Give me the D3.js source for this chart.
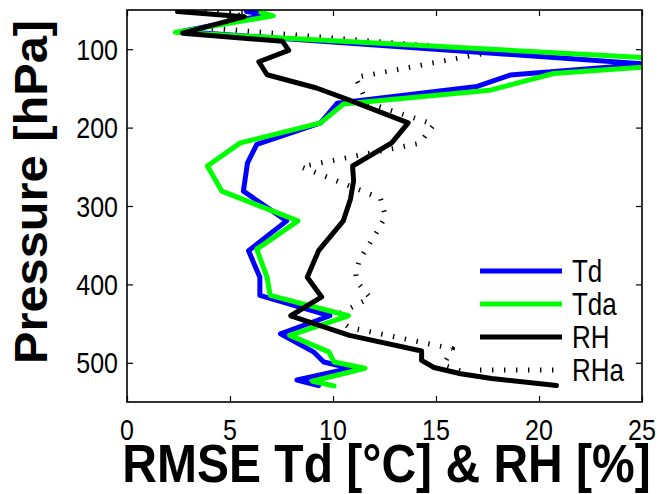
<!DOCTYPE html>
<html>
<head>
<meta charset="utf-8">
<script src="https://cdn.jsdelivr.net/npm/d3@7"></script>
<style>
  body { margin: 0; background: #fff; }
  text { font-family: "Liberation Sans", Arial, Helvetica, sans-serif; fill: #000; }
</style>
</head>
<body>
<div id="chart"></div>
<script>
// dew point RMSE, analysis (Td) and first guess (Tda), plus RH
const tdPressure = [52, 56, 77.5, 119, 133, 147.5, 169, 194, 221.5, 245, 281, 319, 357, 391, 414, 440, 463, 486, 499, 507, 522, 529];
const tdValues = [5.8, 6.8, 2.65, 25.3, 18.6, 17.0, 10.2, 9.4, 6.3, 5.85, 5.65, 7.75, 5.9, 6.45, 6.45, 9.85, 7.45, 9.05, 9.55, 10.85, 8.25, 9.3];

const tdaPressure = [53, 57.5, 78.5, 116, 131, 152.5, 170, 194, 219.5, 249, 281, 319, 355, 391, 414, 440, 465, 486, 499, 507, 523.5, 529.5];
const tdaValues = [6.5, 7.1, 2.35, 28.9, 20.7, 17.6, 10.5, 9.4, 5.5, 3.9, 4.6, 8.3, 6.3, 6.8, 6.95, 10.75, 7.9, 9.8, 10.05, 11.55, 9.0, 10.05];

const rhPressure = [52, 58.5, 79.6, 90, 101.5, 116, 132.6, 149.5, 164, 194, 219.5, 249, 268, 291, 319, 357, 391, 416, 440, 465, 485, 497, 506, 514, 520, 529];
const rhValues = [2.45, 5.7, 2.7, 7.55, 7.85, 6.4, 6.8, 9.2, 10.7, 13.65, 12.85, 10.95, 11.0, 10.85, 10.5, 9.3, 8.75, 9.45, 7.95, 10.8, 14.3, 14.3, 14.9, 16.2, 17.7, 20.85];

const rhaPressure = [51, 52.5, 73, 102.5, 136, 168, 196, 220, 250, 290, 313, 330, 368, 385, 396, 417, 441, 455, 482, 503, 512];
const rhaValues = [3.8, 5.8, 4.0, 17.9, 11.1, 11.65, 14.9, 14.2, 8.45, 12.3, 12.55, 12.2, 11.3, 11.1, 11.15, 11.8, 10.05, 10.8, 15.8, 15.35, 16.4];

const xTicks = [0, 5, 10, 15, 20, 25];
const yTicks = [100, 200, 300, 400, 500];

const width = 660;
const height = 494;
const margin = { top: 10, right: 18, bottom: 92, left: 127 };
const innerW = width - margin.left - margin.right;
const innerH = height - margin.top - margin.bottom;
const stretch = 1.18; // text in the original is drawn taller than the font's normal shape

const svg = d3.select("#chart")
  .append("svg")
  .attr("width", width)
  .attr("height", height);

const x = d3.scaleLinear().domain([0, 25]).range([0, innerW]);
const y = d3.scaleLinear().domain([50, 550]).range([0, innerH]);

const g = svg.append("g").attr("transform", `translate(${margin.left},${margin.top})`);

g.append("clipPath").attr("id", "plotClip")
  .append("rect").attr("width", innerW).attr("height", innerH);

const series = [
  { name: "Td", xs: tdValues, ps: tdPressure, colour: "#0000ff", dash: null },
  { name: "Tda", xs: tdaValues, ps: tdaPressure, colour: "#00ff00", dash: null },
  { name: "RH", xs: rhValues, ps: rhPressure, colour: "#000000", dash: null },
  { name: "RHa", xs: rhaValues, ps: rhaPressure, colour: "#000000", dash: "1.4 10.6" },
];

const line = d3.line().x((d) => x(d[0])).y((d) => y(d[1]));

const plot = g.append("g").attr("clip-path", "url(#plotClip)");

// draw order: RHa underneath, then Td, Tda, RH
[series[3], series[0], series[1], series[2]].forEach((s) => {
  plot.append("path")
    .datum(s.xs.map((v, i) => [v, s.ps[i]]))
    .attr("d", line)
    .attr("fill", "none")
    .attr("stroke", s.colour)
    .attr("stroke-width", 5)
    .attr("stroke-linejoin", "round")
    .attr("stroke-linecap", s.dash ? "butt" : "round")
    .attr("stroke-dasharray", s.dash);
});

// axes, MATLAB style: ticks inside, box on, labels drawn separately
const tickLen = 6;
const axes = [
  g.append("g").attr("transform", `translate(0,${innerH})`)
    .call(d3.axisBottom(x).tickValues(xTicks).tickSizeInner(-tickLen).tickSizeOuter(0).tickFormat("")),
  g.append("g")
    .call(d3.axisTop(x).tickValues(xTicks).tickSizeInner(-tickLen).tickSizeOuter(0).tickFormat("")),
  g.append("g")
    .call(d3.axisLeft(y).tickValues(yTicks).tickSizeInner(-tickLen).tickSizeOuter(0).tickFormat("")),
  g.append("g").attr("transform", `translate(${innerW},0)`)
    .call(d3.axisRight(y).tickValues(yTicks).tickSizeInner(-tickLen).tickSizeOuter(0).tickFormat("")),
];
axes.forEach((a) => {
  a.select(".domain").remove();
  a.selectAll(".tick line").attr("stroke", "#000").attr("stroke-width", 1.2);
});

g.selectAll(".xlab")
  .data(xTicks)
  .join("text")
  .attr("class", "xlab")
  .attr("text-anchor", "middle")
  .attr("transform", (d) => `translate(${x(d)},${innerH + 38}) scale(1,${stretch})`)
  .style("font-size", "25px")
  .text((d) => d);

g.selectAll(".ylab")
  .data(yTicks)
  .join("text")
  .attr("class", "ylab")
  .attr("text-anchor", "end")
  .attr("transform", (d) => `translate(-9,${y(d) + 10.5}) scale(1,${stretch})`)
  .style("font-size", "25px")
  .text((d) => d);

g.append("rect")
  .attr("width", innerW)
  .attr("height", innerH)
  .attr("fill", "none")
  .attr("stroke", "#000")
  .attr("stroke-width", 1.6);

// axis titles
svg.append("text")
  .attr("text-anchor", "middle")
  .attr("transform", `translate(${margin.left + innerW / 2 + 2},482) scale(1,1.1)`)
  .style("font-size", "48px")
  .style("font-weight", "bold")
  .text("RMSE Td [°C] & RH [%]");

svg.append("text")
  .attr("text-anchor", "middle")
  .attr("transform", "translate(47,192) rotate(-90) scale(1.06,1)")
  .style("font-size", "46px")
  .style("font-weight", "bold")
  .text("Pressure [hPa]");

// legend
const legend = svg.append("g").attr("transform", "translate(480,271)");
series.forEach((s, i) => {
  const row = legend.append("g").attr("transform", `translate(0,${i * 33})`);
  row.append("line")
    .attr("x1", 0).attr("x2", 82)
    .attr("stroke", s.colour)
    .attr("stroke-width", 5)
    .attr("stroke-dasharray", s.dash);
  row.append("text")
    .attr("transform", `translate(92,11) scale(1,${stretch})`)
    .style("font-size", "26px")
    .text(s.name);
});
</script>
</body>
</html>
